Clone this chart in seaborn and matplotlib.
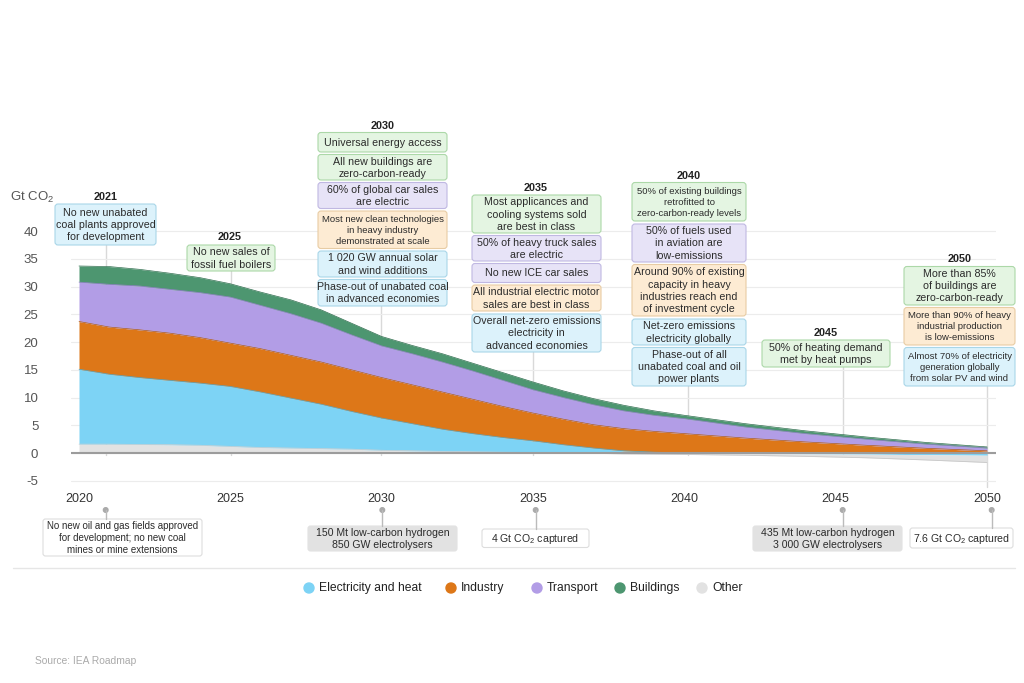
import numpy as np
import matplotlib
matplotlib.use('Agg')
import matplotlib.pyplot as plt
import seaborn as sns
from matplotlib.patches import FancyBboxPatch, Circle
from matplotlib.lines import Line2D
from matplotlib.transforms import Affine2D

# emissions by sector, Gt CO2
years = [2020, 2021, 2022, 2023, 2024, 2025, 2026, 2027, 2028, 2029, 2030,
         2031, 2032, 2033, 2034, 2035, 2036, 2037, 2038, 2039, 2040,
         2042, 2044, 2046, 2048, 2050]
other = [1.6, 1.6, 1.55, 1.5, 1.4, 1.2, 1.0, 0.9, 0.8, 0.7, 0.5,
         0.4, 0.3, 0.22, 0.15, 0.1, 0.05, -0.05, -0.15, -0.2, -0.25,
         -0.35, -0.45, -0.65, -0.95, -1.3]
electricity = [13.5, 12.6, 12.05, 11.6, 11.2, 10.8, 10.0, 9.0, 8.0, 6.8, 5.8,
               4.9, 4.0, 3.28, 2.65, 2.1, 1.45, 0.9, 0.4, 0.15, 0.05,
               -0.05, -0.15, -0.2, -0.3, -0.4]
industry = [8.6, 8.5, 8.6, 8.5, 8.2, 7.8, 7.8, 7.7, 7.6, 7.5, 7.3,
            7.0, 6.7, 6.2, 5.6, 5.0, 4.6, 4.2, 4.0, 3.75, 3.45,
            2.7, 2.0, 1.4, 0.85, 0.4]
transport = [7.1, 7.7, 7.9, 7.9, 8.1, 8.3, 7.8, 7.5, 7.0, 6.3, 5.7,
             5.6, 5.4, 5.1, 4.7, 4.2, 3.9, 3.6, 3.2, 2.9, 2.7,
             2.0, 1.5, 1.1, 0.75, 0.5]
buildings = [2.9, 3.2, 3.0, 2.9, 2.7, 2.4, 2.4, 2.5, 2.4, 2.1, 1.7,
             1.5, 1.5, 1.4, 1.4, 1.4, 1.2, 1.1, 1.0, 0.8, 0.6,
             0.6, 0.5, 0.4, 0.3, 0.2]

sector_names = ['Electricity and heat', 'Industry', 'Transport', 'Buildings', 'Other']
sector_colors = {'Electricity and heat': '#7dd3f5', 'Industry': '#dd7718',
                 'Transport': '#b29de6', 'Buildings': '#4d9670', 'Other': '#e2e2e2'}

# milestone boxes: (text, sector colour key, small font?)
top_milestones = {
    '2021': [("No new unabated\ncoal plants approved\nfor development", 'blue', False)],
    '2025': [("No new sales of\nfossil fuel boilers", 'green', False)],
    '2030': [("Universal energy access", 'green', False),
             ("All new buildings are\nzero-carbon-ready", 'green', False),
             ("60% of global car sales\nare electric", 'purple', False),
             ("Most new clean technologies\nin heavy industry\ndemonstrated at scale", 'orange', True),
             ("1 020 GW annual solar\nand wind additions", 'blue', False),
             ("Phase-out of unabated coal\nin advanced economies", 'blue', False)],
    '2035': [("Most applicances and\ncooling systems sold\nare best in class", 'green', False),
             ("50% of heavy truck sales\nare electric", 'purple', False),
             ("No new ICE car sales", 'purple', False),
             ("All industrial electric motor\nsales are best in class", 'orange', False),
             ("Overall net-zero emissions\nelectricity in\nadvanced economies", 'blue', False)],
    '2040': [("50% of existing buildings\nretrofitted to\nzero-carbon-ready levels", 'green', True),
             ("50% of fuels used\nin aviation are\nlow-emissions", 'purple', False),
             ("Around 90% of existing\ncapacity in heavy\nindustries reach end\nof investment cycle", 'orange', False),
             ("Net-zero emissions\nelectricity globally", 'blue', False),
             ("Phase-out of all\nunabated coal and oil\npower plants", 'blue', False)],
    '2045': [("50% of heating demand\nmet by heat pumps", 'green', False)],
    '2050': [("More than 85%\nof buildings are\nzero-carbon-ready", 'green', False),
             ("More than 90% of heavy\nindustrial production\nis low-emissions", 'orange', True),
             ("Almost 70% of electricity\ngeneration globally\nfrom solar PV and wind", 'blue', True)],
}
bottom_milestones = [
    ("No new oil and gas fields approved\nfor development; no new coal\nmines or mine extensions", 'white', True),
    ("150 Mt low-carbon hydrogen\n850 GW electrolysers", 'grey', False),
    ("4 Gt CO$_2$ captured", 'white', False),
    ("435 Mt low-carbon hydrogen\n3 000 GW electrolysers", 'grey', False),
    ("7.6 Gt CO$_2$ captured", 'white', False),
]

box_styles = {'green': ('#e4f5e2', '#acd8a8'), 'purple': ('#e7e3f7', '#c0b8e2'),
              'orange': ('#fdebd3', '#e8cca4'), 'blue': ('#dcf2fb', '#a9d6e8'),
              'white': ('#ffffff', '#dddddd'), 'grey': ('#e2e2e2', '#e2e2e2')}

# layout in image pixels: x0, x1, header x, header y, box rows, connector x, connector end y
top_layout = {
    '2021': (55, 156, 105.5, 197, [(204, 245)], 106, 455),
    '2025': (187, 275, 230, 237, [(245, 271)], 231, 455),
    '2030': (318, 447, 382.5, 126, [(132.5, 152), (154.5, 180), (182.5, 208.5),
                                    (211, 248.5), (251, 277), (279.5, 306)], 381, 455),
    '2035': (472, 601, 536, 188, [(195, 233), (235.5, 261), (263.5, 282.5),
                                  (285, 311), (314, 352)], 533, 455),
    '2040': (632, 746, 689, 176, [(182.5, 221), (224, 262), (264.5, 316),
                                  (319, 345), (347.5, 386)], 688, 455),
    '2045': (762, 890, 826, 333, [(340, 367)], 843, 455),
    '2050': (904, 1015, 959.5, 259, [(266.5, 305), (307.5, 345), (347.5, 386)], 987, 487),
}
bottom_layout = [(105.7, 43, 202, 519, 556), (382.3, 308, 457, 526, 551),
                 (535.7, 482, 589, 529, 547.5), (842.7, 753, 902, 526, 551),
                 (991.7, 910, 1013, 528, 548)]

sns.set_theme(style='white')
plt.rcParams['font.family'] = ['Liberation Sans', 'DejaVu Sans']
plt.rcParams['mathtext.default'] = 'regular'

W, H = 1024, 683
fig = plt.figure(figsize=(10.24, 6.83), dpi=100)
px = Affine2D().scale(1 / W, -1 / H).translate(0, 1) + fig.transFigure

ax = fig.add_axes([71 / W, 1 - 489.1 / H, (996 - 71) / W, (489.1 - 225.5) / H])
ax.set_facecolor('none')
ax.set_xlim(2020 - 8 / 30.27, 2050 + 9 / 30.27)
ax.set_ylim(-6.5, 41)

yrs = np.array(years)
stack = {'Other': np.array(other), 'Electricity and heat': np.array(electricity),
         'Industry': np.array(industry), 'Transport': np.array(transport),
         'Buildings': np.array(buildings)}
edge_cols = {'Other': '#d0d0d0', 'Electricity and heat': '#4fa9cc', 'Industry': '#b35e10',
             'Transport': '#9580cc', 'Buildings': '#2f6e4e'}

# positive parts stacked upwards
base = np.zeros(len(yrs))
for name in ['Other', 'Electricity and heat', 'Industry', 'Transport', 'Buildings']:
    p = np.clip(stack[name], 0, None)
    ax.fill_between(yrs, base, base + p, color=sector_colors[name], lw=0, zorder=2)
    sns.lineplot(x=yrs, y=base + p, ax=ax, color=edge_cols[name], lw=0.5, zorder=2.1,
                 legend=False)
    base = base + p

# negative parts (BECCS, DAC) stacked downwards
nbase = np.zeros(len(yrs))
for name in ['Electricity and heat', 'Other']:
    n = np.clip(stack[name], None, 0)
    ax.fill_between(yrs, nbase + n, nbase, color=sector_colors[name], lw=0, zorder=2)
    nbase = nbase + n
ax.plot(yrs, nbase, color='#c8c8c8', lw=0.6, zorder=2.1)

ax.axhline(0, color='#9c9c9c', lw=1.5, zorder=3)
ax.set_yticks(range(-5, 45, 5))
ax.set_yticklabels([str(v) for v in range(-5, 45, 5)])
ax.set_xticks(range(2020, 2055, 5))
ax.set_xticklabels([str(v) for v in range(2020, 2055, 5)])
ax.tick_params(axis='y', length=0, pad=23.5, labelsize=9.5, labelcolor='#555555')
ax.tick_params(axis='x', length=0, pad=2.5, labelsize=9, labelcolor='#333333')
ax.yaxis.grid(True, color='#ececec', lw=0.8)
ax.xaxis.grid(False)
ax.set_axisbelow(True)
sns.despine(ax=ax, left=True, bottom=True)

fig.text(10, 197, 'Gt CO$_2$', transform=px, fontsize=9.5, color='#555555', va='center')

# milestone columns above the chart
for col, items in top_milestones.items():
    x0, x1, hx, hy, rows, lx, ly = top_layout[col]
    fig.text(hx, hy, col, transform=px, ha='center', va='center', fontsize=7.8,
             fontweight='bold', color='#222222')
    fig.add_artist(Line2D([lx, lx], [rows[-1][1], ly], transform=px, color='#d9d9d9',
                          lw=1, zorder=-1))
    for (text, kind, small), (y0, y1) in zip(items, rows):
        fc, ec = box_styles[kind]
        fig.add_artist(FancyBboxPatch((x0, y0), x1 - x0, y1 - y0, transform=px,
                                      boxstyle='round,pad=0,rounding_size=3',
                                      fc=fc, ec=ec, lw=0.8))
        fig.text((x0 + x1) / 2, (y0 + y1) / 2 + 0.5, text, transform=px, ha='center',
                 va='center', fontsize=6.8 if small else 7.7, color='#2b2b2b',
                 linespacing=1.28, multialignment='center')

# milestones below the axis
for (text, kind, small), (dx, x0, x1, y0, y1) in zip(bottom_milestones, bottom_layout):
    fc, ec = box_styles[kind]
    fig.add_artist(Line2D([dx, dx], [510, y0], transform=px, color='#bbbbbb', lw=1))
    fig.add_artist(Circle((dx, 510), 2.3, transform=px, color='#aaaaaa'))
    fig.add_artist(FancyBboxPatch((x0, y0), x1 - x0, y1 - y0, transform=px,
                                  boxstyle='round,pad=0,rounding_size=2.5',
                                  fc=fc, ec=ec, lw=0.8))
    fig.text((x0 + x1) / 2, (y0 + y1) / 2 + 0.5, text, transform=px, ha='center',
             va='center', fontsize=7.0 if small else 7.6, color='#2b2b2b',
             linespacing=1.25, multialignment='center')

fig.add_artist(Line2D([13, 1015], [568, 568], transform=px, color='#e6e6e6', lw=1))

# legend
leg_x = [309, 451, 537, 620, 702]
for name, lx in zip(sector_names, leg_x):
    fig.add_artist(Circle((lx, 588), 5, transform=px, color=sector_colors[name]))
    fig.text(lx + 10, 588, name, transform=px, fontsize=8.7, color='#222222', va='center')

fig.text(35, 661, 'Source: IEA Roadmap', transform=px, fontsize=7.4, color='#aaaaaa',
         va='center')

fig.savefig('out.png', dpi=100)
